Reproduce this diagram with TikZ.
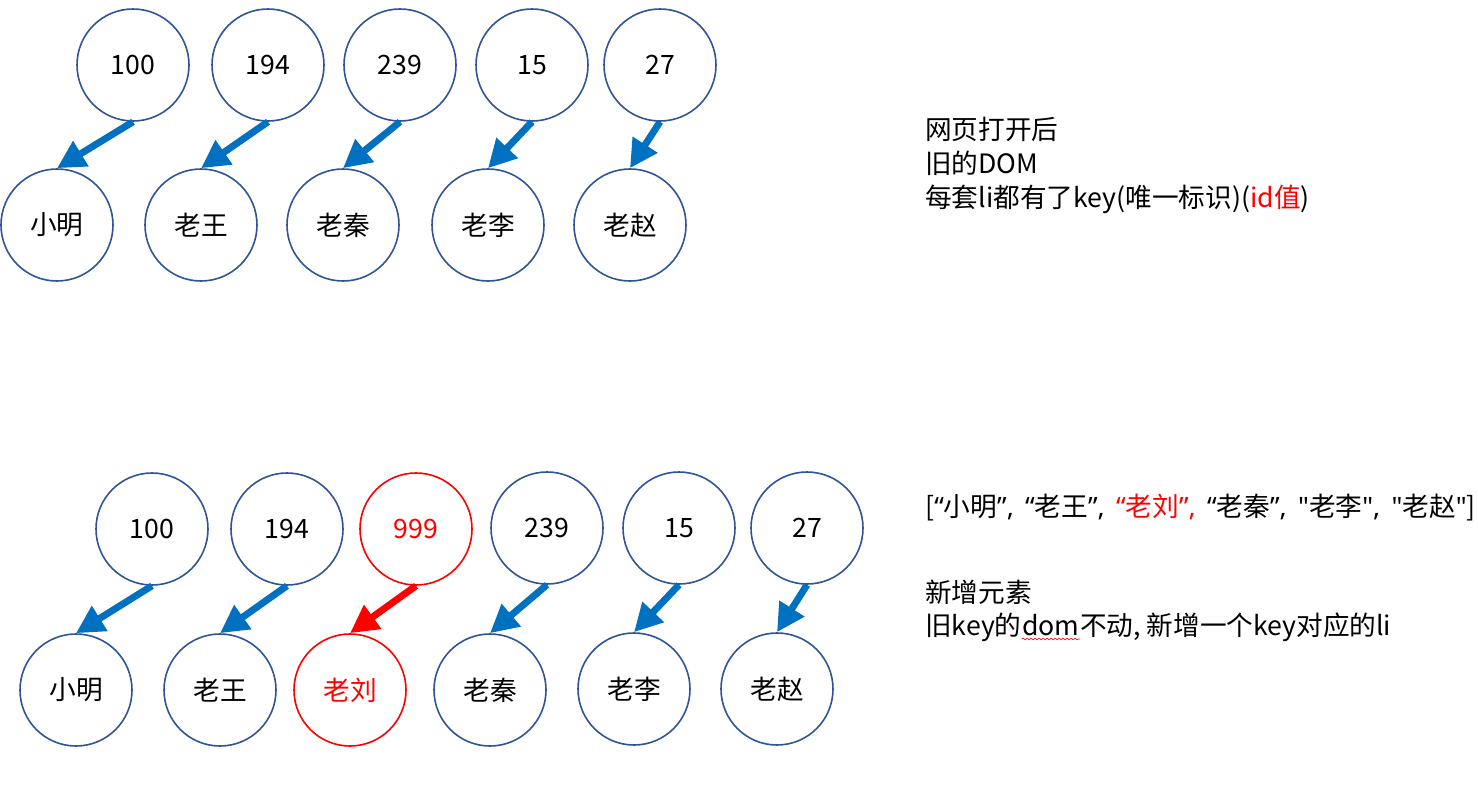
\documentclass[tikz,border=0pt]{standalone}
\usepackage{fontspec}
\setmainfont{Noto Sans CJK SC}
\newfontfamily\latq{Noto Sans}
\usetikzlibrary{arrows.meta,decorations.pathmorphing}
\definecolor{cborder}{HTML}{2F5597}
\definecolor{abl}{HTML}{0070C0}
\definecolor{rd}{HTML}{FF0000}
\newcommand{\myLq}{{\latq “}}
\newcommand{\myRq}{{\latq ”}}
\newcommand{\mySq}{{\latq "}}
\newcommand{\myCm}{{\latq ,}\hspace{8.5pt}}
\begin{document}
\begin{tikzpicture}[x=0.75pt,y=-0.75pt,
  key/.style={circle,draw=cborder,line width=1.2pt,minimum size=84pt,inner sep=0pt,font=\fontsize{20}{24}\selectfont},
  redkey/.style={key,draw=rd,text=rd},
  link/.style={draw=abl,line width=5.2pt,-{Triangle[length=21pt,width=21pt]}},
  redlink/.style={link,draw=rd},
  note/.style={anchor=west,inner sep=0pt,align=left,font=\fontsize{20}{25.5}\selectfont},
  frag/.style={anchor=base west,inner sep=0pt,font=\fontsize{20}{25.5}\selectfont}]
\useasboundingbox (0,0) rectangle (1478,786);
% row 1
\node[key] (t1) at (133,65) {100};
\node[key] (t2) at (268,65) {194};
\node[key] (t3) at (400,65) {239};
\node[key] (t4) at (532,65) {15};
\node[key] (t5) at (660,65) {27};
\node[key] (b1) at (57,225) {小明};
\node[key] (b2) at (201,225) {老王};
\node[key] (b3) at (343,225) {老秦};
\node[key] (b4) at (488,225) {老李};
\node[key] (b5) at (630,225) {老赵};
\foreach \i in {1,...,5} \draw[link] (t\i.south) -- (b\i.north);
% row 2
\node[key] (u1) at (152,529) {100};
\node[key] (u2) at (287,529) {194};
\node[redkey] (u3) at (416,529) {999};
\node[key] (u4) at (547,528) {239};
\node[key] (u5) at (679,528) {15};
\node[key] (u6) at (807,528) {27};
\node[key] (c1) at (76,690) {小明};
\node[key] (c2) at (220,690) {老王};
\node[redkey] (c3) at (350,690) {老刘};
\node[key] (c4) at (490,690) {老秦};
\node[key] (c5) at (634,689) {老李};
\node[key] (c6) at (777,689) {老赵};
\foreach \i in {1,2,4,5,6} \draw[link] (u\i.south) -- (c\i.north);
\draw[redlink] (u3.south) -- (c3.north);
% notes
\node[note] (n1) at (925,165) {网页打开后\\旧的DOM\\每套li都有了key(唯一标识)(\textcolor{rd}{id值})};
\node[note] (n2) at (925,508) {[\myLq 小明\myRq\myCm\myLq 老王\myRq\myCm\textcolor{rd}{\myLq 老刘\myRq\myCm}\myLq 老秦\myRq\myCm\mySq 老李\mySq\myCm\mySq 老赵\mySq]};
\node[note] (n3) at (925,592) {新增元素};
\node[frag] (m1) at (925,635) {旧key的};
\node[frag] (m2) at (m1.base east) {dom};
\node[frag] (m3) at (m2.base east) {不动, 新增一个key对应的li};
\draw[rd,line width=0.5pt,decorate,decoration={snake,amplitude=0.6pt,segment length=3pt}]
  ([yshift=-3pt]m2.base west) -- ([yshift=-3pt]m2.base east);
\end{tikzpicture}
\end{document}
